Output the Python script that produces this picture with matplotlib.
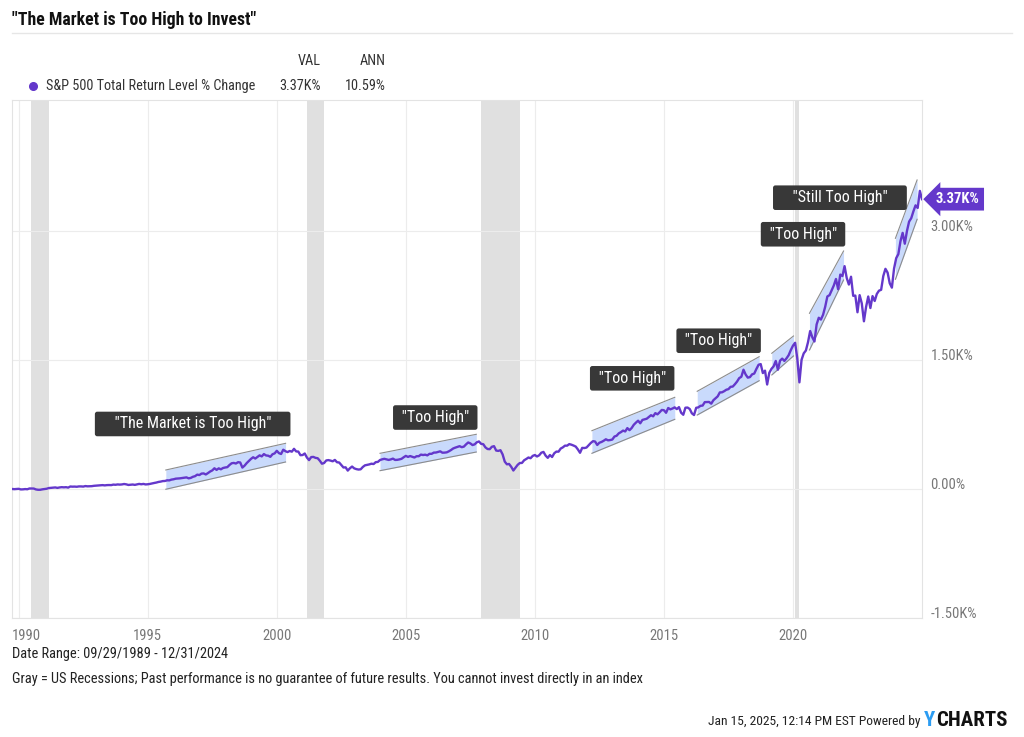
import matplotlib.pyplot as plt
import numpy as np
from matplotlib.lines import Line2D
from matplotlib.transforms import ScaledTranslation

plt.rcParams['font.family'] = ['Roboto Condensed', 'Roboto', 'DejaVu Sans']

TITLE = '"The Market is Too High to Invest"'
SERIES_NAME = "S&P 500 Total Return Level % Change"
VAL_TXT = "3.37K%"
ANN_TXT = "10.59%"
LAST_TAG = "3.37K%"

# monthly month-end values, % change since 09/29/1989
START_YEAR = 1989.75
tr_pct = [
    0, -2, 0, 2,                                                      # 1989
    -5, -4, -1, -3, 6, 5, 5, -5, -9, -9, -4, -1,                     # 1990
    3, 11, 13, 14, 18, 13, 18, 21, 19, 21, 16, 29,                   # 1991
    27, 28, 26, 30, 30, 28, 34, 31, 32, 33, 37, 39,                  # 1992
    40, 42, 45, 42, 45, 46, 45, 51, 49, 53, 51, 53,                  # 1993
    58, 54, 47, 49, 52, 48, 53, 59, 55, 59, 53, 55,                  # 1994
    59, 65, 70, 75, 82, 86, 92, 93, 101, 100, 109, 113,              # 1995
    120, 122, 124, 128, 133, 135, 124, 129, 142, 149, 167, 162,      # 1996
    179, 181, 169, 185, 203, 216, 241, 222, 240, 229, 244, 250,      # 1997
    254, 279, 299, 303, 296, 312, 308, 249, 271, 301, 325, 350,      # 1998
    369, 354, 372, 391, 379, 406, 390, 387, 374, 404, 414, 444,      # 1999
    417, 407, 457, 440, 429, 442, 434, 467, 437, 435, 393, 395,      # 2000
    413, 366, 336, 371, 373, 362, 358, 329, 294, 302, 332, 336,      # 2001
    330, 322, 338, 311, 308, 279, 250, 252, 214, 241, 261, 240,      # 2002
    231, 226, 229, 256, 275, 280, 286, 294, 290, 312, 315, 337,      # 2003
    345, 351, 345, 338, 344, 353, 338, 339, 344, 351, 369, 385,      # 2004
    373, 383, 375, 366, 381, 381, 400, 395, 399, 391, 409, 409,      # 2005
    423, 424, 431, 438, 422, 423, 426, 438, 453, 471, 481, 489,      # 2006
    498, 486, 493, 519, 541, 530, 511, 519, 543, 553, 525, 521,      # 2007
    484, 465, 463, 491, 498, 447, 443, 451, 402, 318, 287, 291,      # 2008
    258, 215, 248, 281, 302, 303, 334, 349, 366, 358, 385, 395,      # 2009
    378, 392, 422, 431, 388, 362, 395, 372, 415, 435, 434, 470,      # 2010
    484, 504, 504, 522, 515, 505, 493, 460, 421, 478, 476, 482,      # 2011
    509, 535, 556, 552, 512, 538, 547, 561, 578, 566, 569, 575,      # 2012
    610, 619, 647, 661, 679, 669, 708, 684, 709, 747, 772, 794,      # 2013
    764, 803, 810, 817, 838, 858, 845, 882, 868, 892, 919, 916,      # 2014
    886, 942, 926, 936, 949, 929, 952, 887, 863, 945, 947, 930,      # 2015
    880, 860, 944, 949, 967, 970, 1010, 1011, 1012, 992, 1032, 1054,  # 2016
    1077, 1123, 1124, 1137, 1154, 1161, 1188, 1191, 1218, 1249, 1289, 1305,  # 2017
    1387, 1331, 1295, 1301, 1333, 1342, 1396, 1444, 1453, 1348, 1376, 1215,  # 2018
    1351, 1397, 1426, 1489, 1387, 1492, 1516, 1489, 1519, 1556, 1615, 1666,  # 2019
    1700, 1520, 1240, 1502, 1577, 1610, 1707, 1837, 1764, 1715, 1913, 1991,  # 2020
    1970, 2026, 2120, 2239, 2254, 2309, 2367, 2442, 2323, 2493, 2476, 2591,  # 2021
    2453, 2377, 2468, 2246, 2249, 2055, 2254, 2158, 1950, 2117, 2238, 2104,  # 2022
    2243, 2186, 2268, 2306, 2316, 2476, 2560, 2516, 2392, 2341, 2562, 2684,  # 2023
    2731, 2882, 2978, 2852, 2999, 3109, 3149, 3228, 3298, 3268, 3466, 3370,  # 2024
]
years = START_YEAR + np.arange(len(tr_pct)) / 12

# US recessions (decimal years)
rec_start = [1990.48, 2001.16, 2007.92, 2020.08]
rec_end = [1991.17, 2001.81, 2009.43, 2020.25]

# "too high" channels
band_start = [1995.70, 2004.00, 2012.21, 2016.29, 2019.18, 2020.64, 2023.97]
band_end = [2000.34, 2007.73, 2015.42, 2018.69, 2020.02, 2021.96, 2024.81]
band_up0 = [221, 415, 678, 1136, 1578, 2043, 2915]
band_up1 = [531, 636, 1066, 1538, 1779, 2767, 3593]
band_lo0 = [-3, 213, 415, 860, 1326, 1616, 2438]
band_lo1 = [314, 430, 810, 1259, 1547, 2430, 3136]

# callout boxes
call_text = ['"The Market is Too High"', '"Too High"', '"Too High"',
             '"Too High"', '"Too High"', '"Still Too High"']
call_x = [1996.74, 2006.14, 2013.77, 2017.12, 2020.39, 2021.82]
call_y = [756, 831, 1287, 1724, 2962, 3387]
call_pad = [4, 1, 1, 1, 1, 4]   # spaces either side of the text

x_ticks = [1990, 1995, 2000, 2005, 2010, 2015, 2020]
y_ticks = [-1500, 0, 1500, 3000]
y_tick_labels = ["-1.50K%", "0.00%", "1.50K%", "3.00K%"]

PURPLE = "#6438cb"
W, H = 1024, 737

fig = plt.figure(figsize=(W / 100, H / 100), dpi=100)
ax = fig.add_axes([12 / W, 1 - 618 / H, 910 / W, 518 / H])

for a, b in zip(rec_start, rec_end):
    ax.axvspan(a, b, color="#e0e0e0", lw=0, zorder=0)

for x0, x1, u0, u1, l0, l1 in zip(band_start, band_end, band_up0, band_up1,
                                  band_lo0, band_lo1):
    ax.fill_between([x0, x1], [l0, l1], [u0, u1], color="#c9dafc",
                    lw=0, zorder=2)
    ax.plot([x0, x1], [u0, u1], color="#8c8c8c", lw=0.8, zorder=2)
    ax.plot([x0, x1], [l0, l1], color="#8c8c8c", lw=0.8, zorder=2)

ax.plot(years, tr_pct, color=PURPLE, lw=1.7, zorder=3)

for t, x, y, p in zip(call_text, call_x, call_y, call_pad):
    sp = " " * p
    ax.text(x, y, sp + t + sp, ha="center", va="center", fontsize=11.5,
            color="white", zorder=5,
            bbox=dict(boxstyle="round,pad=0.3,rounding_size=0.15",
                      fc="#383838", ec="none"))

ax.annotate(LAST_TAG, xy=(years[-1], tr_pct[-1]), xytext=(10, 0),
            textcoords="offset points", ha="left", va="center",
            fontsize=10.5, fontweight="bold", color="white",
            annotation_clip=False, zorder=6,
            bbox=dict(boxstyle="larrow,pad=0.3", fc=PURPLE, ec="none"))

ax.set_xlim(1989.74, 2025.0)
ax.set_ylim(-1500, 4523)
ax.set_xticks(x_ticks)
ax.set_xticklabels([str(v) for v in x_ticks])
ax.set_yticks(y_ticks)
ax.set_yticklabels(y_tick_labels)
ax.yaxis.tick_right()
ax.tick_params(axis="both", length=0, labelsize=10.5, labelcolor="#777777")
ax.tick_params(axis="x", pad=8)
ax.tick_params(axis="y", pad=6)
for lab in ax.get_yticklabels():
    lab.set_verticalalignment("baseline")
first = ax.get_xticklabels()[0]
first.set_transform(first.get_transform()
                    + ScaledTranslation(8 / 100, 0, fig.dpi_scale_trans))
ax.grid(True, color="#ececec", lw=0.8, zorder=1)
ax.set_axisbelow(True)
for s in ax.spines.values():
    s.set_color("#e3e3e3")
    s.set_linewidth(0.8)

# header
fig.text(12 / W, 1 - 20 / H, TITLE, fontsize=12.75, fontweight="bold",
         color="#111111", va="center", ha="left")
fig.add_artist(Line2D([12 / W, 1012 / W], [1 - 33 / H, 1 - 33 / H],
                      color="#e6e6e6", lw=1))
fig.text(321 / W, 1 - 61 / H, "VAL", fontsize=10.3, color="#333333",
         ha="right", va="center")
fig.text(386 / W, 1 - 61 / H, "ANN", fontsize=10.3, color="#333333",
         ha="right", va="center")
fig.add_artist(Line2D([33 / W], [1 - 86 / H], marker="o", ms=5.5,
                      color=PURPLE, lw=0))
fig.text(46 / W, 1 - 86 / H, SERIES_NAME, fontsize=10.3, color="#333333",
         ha="left", va="center")
fig.text(321 / W, 1 - 86 / H, VAL_TXT, fontsize=10.3, color="#333333",
         ha="right", va="center")
fig.text(386 / W, 1 - 86 / H, ANN_TXT, fontsize=10.3, color="#333333",
         ha="right", va="center")

# footer
fig.text(12 / W, 1 - 654 / H, "Date Range: 09/29/1989 - 12/31/2024",
         fontsize=10.35, color="#222222", ha="left", va="center")
fig.text(12 / W, 1 - 679 / H,
         "Gray = US Recessions; Past performance is no guarantee of future "
         "results. You cannot invest directly in an index",
         fontsize=10.35, color="#222222", ha="left", va="center")
fig.text(920 / W, 1 - 721 / H, "Jan 15, 2025, 12:14 PM EST Powered by",
         fontsize=9.7, color="#222222", ha="right", va="center")
fig.text(924 / W, 1 - 721 / H, "Y", fontsize=15, fontweight="bold",
         color="#2b9cf2", ha="left", va="center")
fig.text(936 / W, 1 - 721 / H, "CHARTS", fontsize=15, fontweight="bold",
         color="#111111", ha="left", va="center")

fig.savefig("out.png", dpi=100)
